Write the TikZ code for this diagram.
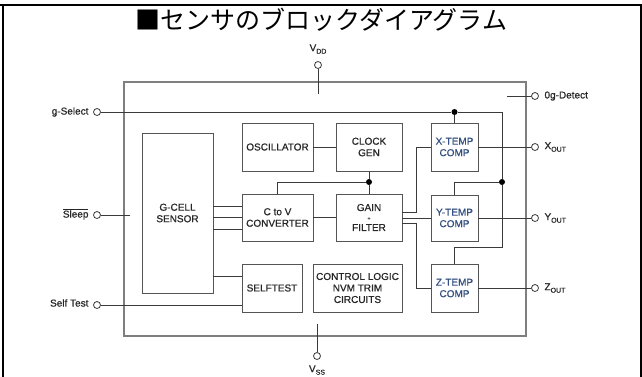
\documentclass[tikz,border=0pt]{standalone}
\usepackage{fontspec}
\setmainfont{Liberation Sans}[FakeBold=0.8,AutoFakeBold=0.8]
\newfontfamily\jpfont{Noto Sans CJK JP}
\usepackage{tikz}
\usetikzlibrary{positioning,calc}
\definecolor{boxgray}{HTML}{555555}
\definecolor{framegray}{HTML}{7F7F7F}
\definecolor{wiregray}{HTML}{3A3A3A}
\definecolor{tempblue}{HTML}{34507F}
\newcommand{\pinsub}[1]{\raisebox{-2.5pt}{\fontsize{7}{7}\selectfont #1}}

\begin{document}
\begin{tikzpicture}[x=1pt, y=-1pt,
  every node/.style={font=\fontsize{10}{11.5}\selectfont\bfseries, text=black!85},
  blk/.style={draw=boxgray, line width=0.9pt, align=center, inner sep=0pt},
  tempblk/.style={blk, text=tempblue, minimum width=47pt, minimum height=48pt},
  term/.style={circle, draw=wiregray, line width=0.8pt, inner sep=0pt, minimum size=7pt},
  dot/.style={circle, fill=black, inner sep=0pt, minimum size=6pt},
  wire/.style={draw=wiregray, line width=0.9pt}]
  \useasboundingbox (0,0) rectangle (642,376);
  % outer frame and title
  \draw[line width=2pt] (0,4.5) -- (642,4.5);
  \draw[line width=2pt] (2.5,4.5) -- (2.5,380);
  \draw[line width=2pt] (640.5,4.5) -- (640.5,380);
  \node[font=\jpfont\fontsize{25}{28}\selectfont, text=black] (title) at (321,20) {■センサのブロックダイアグラム};
  % chip outline
  \draw[draw=framegray, line width=1.3pt] (124,82) rectangle (526,336);

  % blocks
  \node[blk, minimum width=71pt, minimum height=160pt] (gcell) at (177.5,213) {G-CELL\\SENSOR};
  \node[blk, minimum width=71pt, minimum height=48pt] (osc) at (277.5,147) {OSCILLATOR};
  \node[blk, minimum width=71pt, minimum height=47pt] (ctov) at (277.5,217.5) {C to V\\CONVERTER};
  \node[blk, minimum width=60pt, minimum height=48pt] (selftest) at (272,288) {SELFTEST};
  \node[blk, minimum width=66pt, minimum height=48pt] (clock) at (369,147) {CLOCK\\GEN};
  \node[blk, minimum width=66pt, minimum height=47pt] (gain) at (369,217.5) {GAIN\\[-2pt]{\fontsize{6}{6}\selectfont+}\\[-1pt]FILTER};
  \node[blk, minimum width=89pt, minimum height=48pt] (ctrl) at (357.5,288) {CONTROL LOGIC\\NVM TRIM\\CIRCUITS};
  \node[tempblk] (xtemp) at (454.5,147) {X-TEMP\\COMP};
  \node[tempblk, minimum height=46pt] (ytemp) at (454.5,218) {Y-TEMP\\COMP};
  \node[tempblk] (ztemp) at (454.5,288) {Z-TEMP\\COMP};

  % pins
  \node[term] (vdd) at (318,65) {};
  \node (vddlbl) at (318,49) {V\pinsub{DD}};
  \coordinate (vddend) at (318,94);
  \node[term] (vss) at (317,356) {};
  \node (vsslbl) at (317,370) {V\pinsub{SS}};
  \coordinate (vssend) at (317,324);
  \node[term] (gsel) at (97,112) {};
  \node[anchor=east] (gsellbl) at (92,112) {g-Select};
  \node[term] (sleep) at (97,215) {};
  \node[anchor=east] (sleeplbl) at (92,214) {$\overline{\mbox{Sleep}}$};
  \coordinate (sleepend) at (130,215);
  \node[term] (stest) at (97,305) {};
  \node[anchor=east] (stestlbl) at (92,303) {Self Test};
  \node[term] (zerog) at (535,96) {};
  \node[anchor=west] (zeroglbl) at (541,96) {0g-Detect};
  \coordinate (zerogend) at (507,96);
  \node[term] (xout) at (535,147) {};
  \node[anchor=west] (xoutlbl) at (541,147) {X\pinsub{OUT}};
  \node[term] (yout) at (535,218) {};
  \node[anchor=west] (youtlbl) at (541,218) {Y\pinsub{OUT}};
  \node[term] (zout) at (535,288) {};
  \node[anchor=west] (zoutlbl) at (541,288) {Z\pinsub{OUT}};

  % g-Select bus
  \node[dot] (dx) at (454.5,112) {};
  \node[dot] (dy) at (502,182) {};
  \coordinate (gcorner) at (502,112);
  \coordinate (zcorner) at (502,247);
  \draw[wire] (gsel) -- (dx) -- (gcorner) -- (dy) -- (zcorner) -| (ztemp);
  \draw[wire] (dx) -- (xtemp);
  \draw[wire] (dy) -| (ytemp);

  % clock
  \node[dot] (dc) at (369,182) {};
  \coordinate (ctovtop) at (277,194);
  \draw[wire] (clock) -- (dc) -- (gain);
  \draw[wire] (dc) -| (ctovtop);
  \draw[wire] (osc) -- (clock);

  % signal path
  \draw[wire] (gcell.east |- 0,206) -- (ctov.west |- 0,206);
  \draw[wire] (gcell.east |- 0,217) -- (ctov.west |- 0,217);
  \draw[wire] (gcell.east |- 0,229) -- (ctov.west |- 0,229);
  \draw[wire] (gcell.east |- 0,276) -- (selftest.west |- 0,276);
  \draw[wire] (ctov) -- (gain);
  \draw[wire] (gain.east |- 0,212) -| (416,147) -- (xtemp.west);
  \draw[wire] (gain.east |- ytemp.west) -- (ytemp.west);
  \draw[wire] (gain.east |- 0,223) -| (416,288) -- (ztemp.west);

  % outputs and supplies
  \draw[wire] (xtemp) -- (xout);
  \draw[wire] (ytemp) -- (yout);
  \draw[wire] (ztemp) -- (zout);
  \draw[wire] (zerogend) -- (zerog);
  \draw[wire] (vdd) -- (vddend);
  \draw[wire] (vssend) -- (vss);
  \draw[wire] (sleep) -- (sleepend);
  \draw[wire] (stest) -- (selftest.west |- stest);
\end{tikzpicture}
\end{document}
